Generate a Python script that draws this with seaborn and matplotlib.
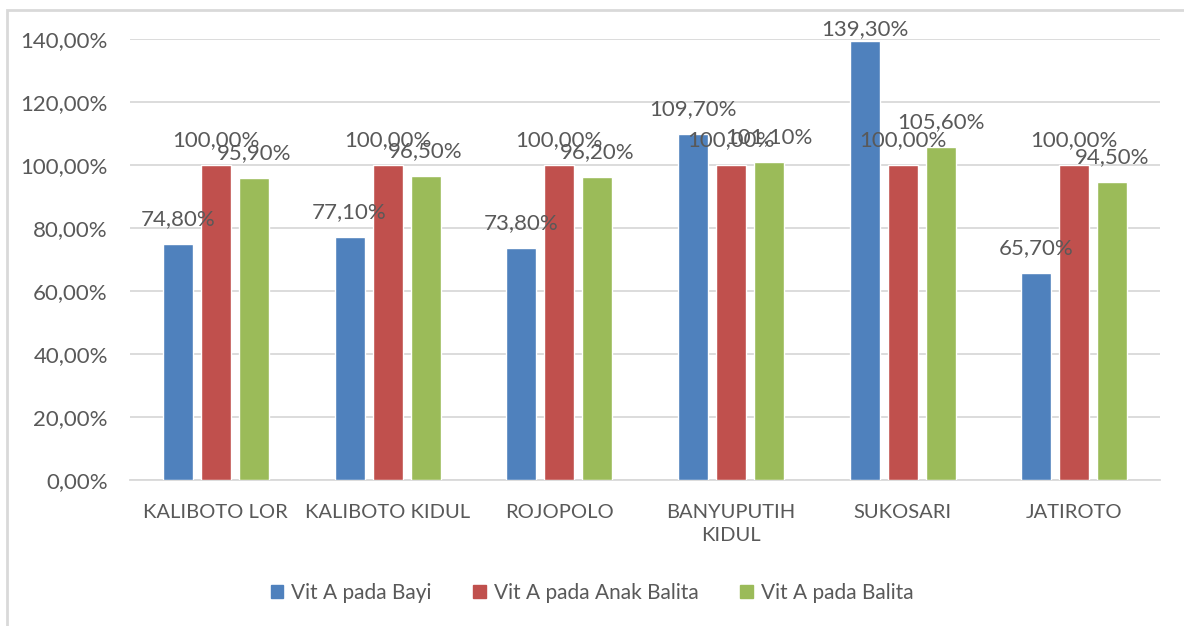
import matplotlib.pyplot as plt
import matplotlib.patches as mpatches
import seaborn as sns
import pandas as pd

desa = ["KALIBOTO LOR", "KALIBOTO KIDUL", "ROJOPOLO", "BANYUPUTIH\nKIDUL", "SUKOSARI", "JATIROTO"]
bayi = [74.8, 77.1, 73.8, 109.7, 139.3, 65.7]
anak_balita = [100.0, 100.0, 100.0, 100.0, 100.0, 100.0]
balita = [95.9, 96.5, 96.2, 101.1, 105.6, 94.5]
series = ["Vit A pada Bayi", "Vit A pada Anak Balita", "Vit A pada Balita"]
colors = ["#4F81BD", "#C0504D", "#9BBB59"]

df = pd.DataFrame({
    "desa": desa * 3,
    "nilai": bayi + anak_balita + balita,
    "seri": [series[0]] * 6 + [series[1]] * 6 + [series[2]] * 6,
})

sns.set_style("white")
plt.rcParams["font.family"] = ["Lato", "DejaVu Sans"]
txt = "#595959"
grid = "#D9D9D9"
fs = 16

fig = plt.figure(figsize=(11.84, 6.26), dpi=100)
ax = fig.add_axes([0.1098, 0.2332, 0.8700, 0.7045])

sns.barplot(data=df, x="desa", y="nilai", hue="seri", palette=colors, saturation=1,
            width=0.664, gap=0.21, ax=ax, legend=True, zorder=3)

ax.set_ylim(0, 140)
ax.set_xlim(-0.5, 5.5)
ticks = list(range(0, 141, 20))
ax.set_yticks(ticks)
ax.set_yticklabels([f"{t:.2f}%".replace(".", ",") for t in ticks])
ax.yaxis.grid(True, color=grid, linewidth=1.3, zorder=0)
ax.set_axisbelow(True)
for s in ["top", "right", "left"]:
    ax.spines[s].set_visible(False)
ax.spines["bottom"].set_color(grid)
ax.spines["bottom"].set_linewidth(1.3)
ax.tick_params(axis="both", length=0, labelcolor=txt)
ax.tick_params(axis="y", pad=16, labelsize=fs)
ax.tick_params(axis="x", pad=17, labelsize=14.5)
for lab in ax.get_xticklabels():
    lab.set_linespacing(1.45)
ax.set_xlabel("")
ax.set_ylabel("")

for cont in ax.containers:
    for bar in cont:
        v = bar.get_height()
        y = min(v + 7.9, 143.3)
        ax.text(bar.get_x() + bar.get_width() / 2, y, f"{v:.2f}%".replace(".", ","),
                ha="center", va="center", fontsize=fs, color=txt, zorder=5, clip_on=False)

handles = [mpatches.Patch(color=c) for c in colors]
ax.get_legend().remove()
fig.legend(handles, series, loc="center", bbox_to_anchor=(0.5, 0.053), ncol=3,
           frameon=False, fontsize=15, labelcolor=txt, handlelength=0.6,
           handleheight=0.6, handletextpad=0.38, columnspacing=2.0)

fig.patches.append(mpatches.Rectangle((7 / 1184, -0.1), 1.2, 1 - 10 / 626 + 0.1,
                                      transform=fig.transFigure, fill=False,
                                      edgecolor=grid, linewidth=2))

fig.savefig("out.png", dpi=100)
